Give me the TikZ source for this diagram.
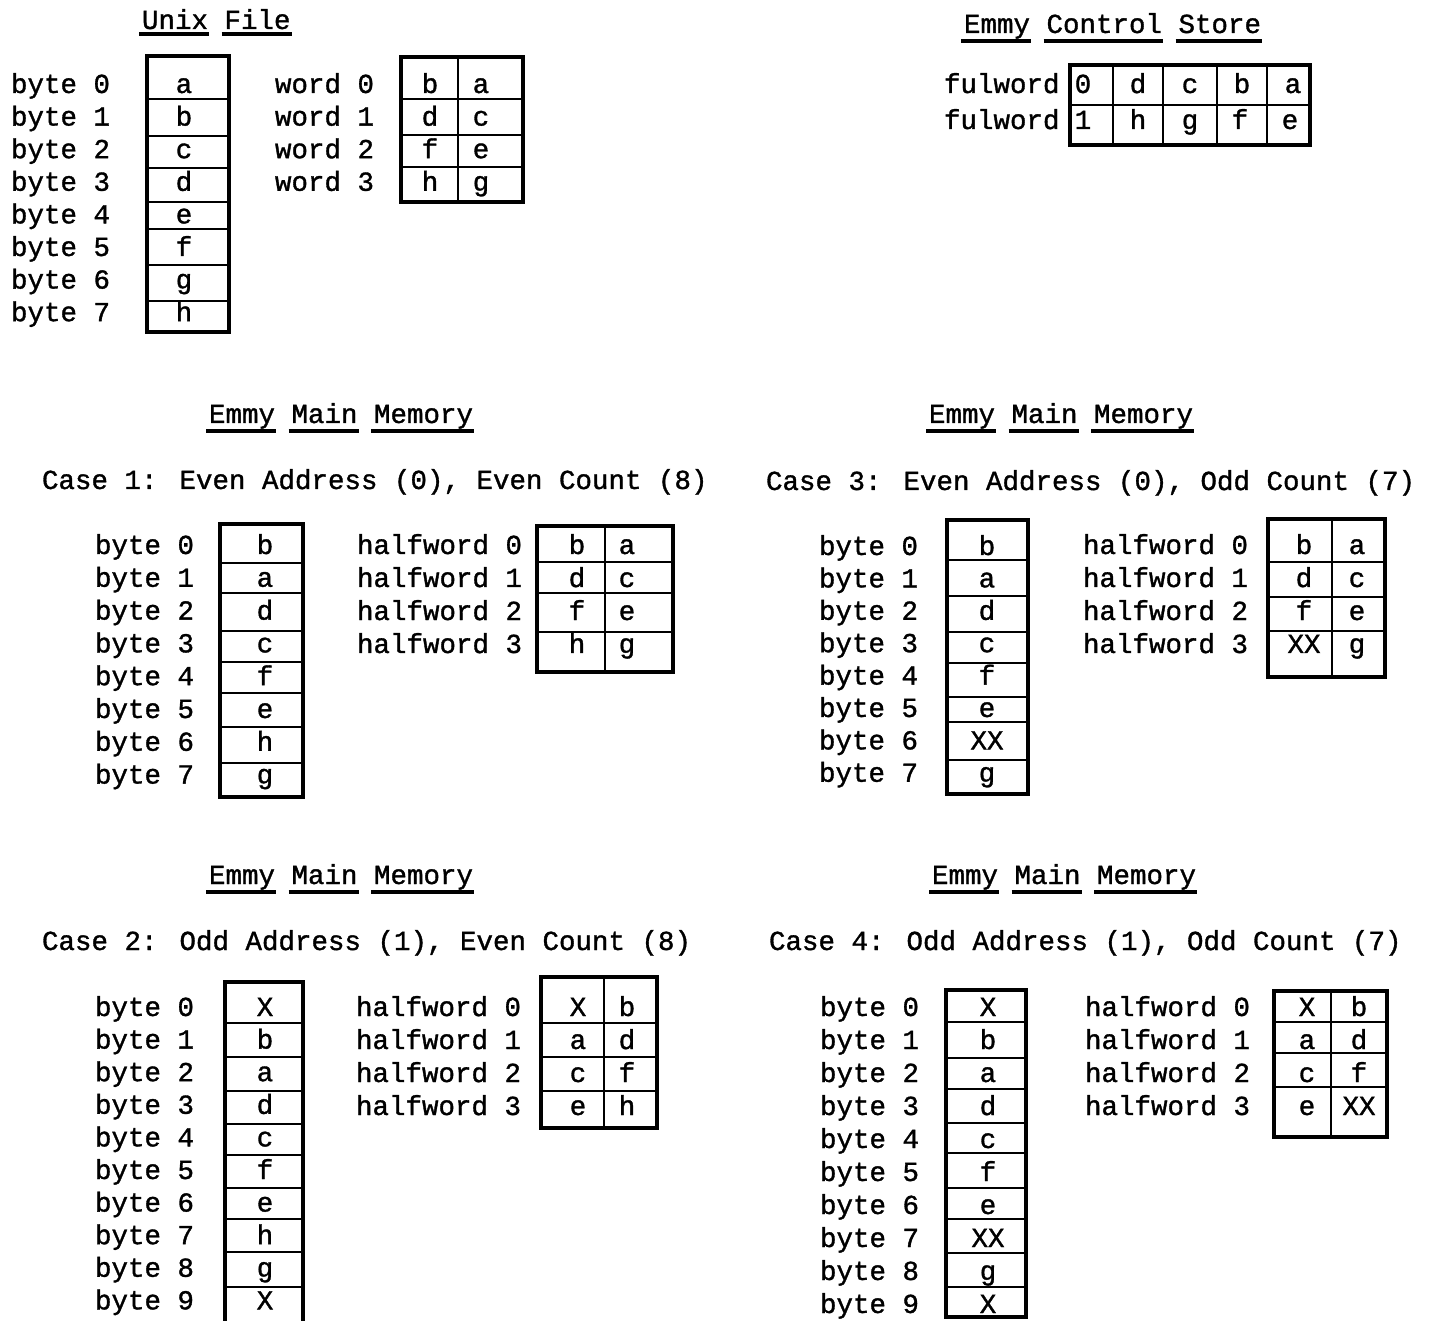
\documentclass[tikz,border=0pt]{standalone}
\usepackage{fontspec}
\setmainfont{Liberation Mono}
\newfontfamily\tw{Liberation Mono}[FakeBold=1.2]
\newcommand\Uline[4]{\draw[uline] ({#1+#3*16.5-3},#2) -- ({#1+(#3+#4)*16.5+1},#2);}
\begin{document}
\begin{tikzpicture}[x=0.5pt,y=-0.5pt,
  every node/.style={inner sep=0pt, outer sep=0pt},
  txt/.style={font=\tw\fontsize{13.75}{16}\selectfont},
  lbl/.style={txt, anchor=base west},
  cell/.style={txt, anchor=base},
  frame/.style={line width=1.8pt},
  sep/.style={line width=1.4pt},
  uline/.style={line width=1.6pt}]
\useasboundingbox (0,0) rectangle (1432,1321);

% ---------------- Unix File ----------------
\node[lbl] (unixhdr) at (142,29) {Unix File};
\Uline{142}{34}{0}{4}\Uline{142}{34}{5}{4}
\foreach \i in {0,...,7} \node[lbl] (ubl\i) at (11,{93+32.6*\i}) {byte \i};
\draw[frame] (147,56) rectangle (229,332);
\foreach \y in {99,136,168,202,229,265,301} \draw[sep] (147,\y) -- (229,\y);
\foreach \t [count=\i from 0] in {a,b,c,d,e,f,g,h} \node[cell] (ubc\i) at (184,{93+32.6*\i}) {\t};
\foreach \i in {0,...,3} \node[lbl] (uwl\i) at (275,{93+32.6*\i}) {word \i};
\draw[frame] (401,57) rectangle (523,202);
\draw[sep] (458,57) -- (458,202);
\foreach \y in {99,135,167} \draw[sep] (401,\y) -- (523,\y);
\foreach \l/\r [count=\i from 0] in {b/a,d/c,f/e,h/g} {
  \node[cell] (uwa\i) at (430,{93+32.6*\i}) {\l};
  \node[cell] (uwb\i) at (481,{93+32.6*\i}) {\r};}

% ---------------- Emmy Control Store ----------------
\node[lbl] (cshdr) at (964,33) {Emmy Control Store};
\Uline{964}{41}{0}{4}\Uline{964}{41}{5}{7}\Uline{964}{41}{13}{5}
\node[lbl] (csl0) at (944,93) {fulword};
\node[lbl] (csl1) at (944,129) {fulword};
\draw[frame] (1070,65) rectangle (1310,145);
\draw[sep] (1070,105) -- (1310,105);
\foreach \x in {1113,1163,1217,1267} \draw[sep] (\x,65) -- (\x,145);
\foreach \t/\x [count=\i] in {0/1083,d/1138,c/1190,b/1242,a/1293} \node[cell] (csa\i) at (\x,93) {\t};
\foreach \t/\x [count=\i] in {1/1083,h/1138,g/1190,f/1240,e/1290} \node[cell] (csb\i) at (\x,129) {\t};

% ---------------- Case 1 ----------------
\node[lbl] (h1) at (209,423) {Emmy Main Memory};
\Uline{209}{431}{0}{4}\Uline{209}{431}{5}{4}\Uline{209}{431}{10}{6}
\node[lbl] (c1) at (42,489) {Case 1: Even Address (0), Even Count (8)};
\foreach \i in {0,...,7} \node[lbl] (c1bl\i) at (95,{554+32.8*\i}) {byte \i};
\draw[frame] (220,524) rectangle (303,797);
\foreach \y in {563,593,631,662,693,727,763} \draw[sep] (220,\y) -- (303,\y);
\foreach \t [count=\i from 0] in {b,a,d,c,f,e,h,g} \node[cell] (c1bc\i) at (265,{554+32.8*\i}) {\t};
\foreach \i in {0,...,3} \node[lbl] (c1hl\i) at (357,{554+33*\i}) {halfword \i};
\draw[frame] (537,526) rectangle (673,672);
\draw[sep] (605,526) -- (605,672);
\foreach \y in {562,593,632} \draw[sep] (537,\y) -- (673,\y);
\foreach \l/\r [count=\i from 0] in {b/a,d/c,f/e,h/g} {
  \node[cell] (c1ha\i) at (577,{554+33*\i}) {\l};
  \node[cell] (c1hb\i) at (627,{554+33*\i}) {\r};}

% ---------------- Case 3 ----------------
\node[lbl] (h3) at (929,423) {Emmy Main Memory};
\Uline{929}{431}{0}{4}\Uline{929}{431}{5}{4}\Uline{929}{431}{10}{6}
\node[lbl] (c3) at (766,490) {Case 3: Even Address (0), Odd Count (7)};
\foreach \i in {0,...,7} \node[lbl] (c3bl\i) at (819,{555+32.4*\i}) {byte \i};
\draw[frame] (947,520) rectangle (1028,794);
\foreach \y in {560,596,632,663,697,722,760} \draw[sep] (947,\y) -- (1028,\y);
\foreach \t [count=\i from 0] in {b,a,d,c,f,e,XX,g} \node[cell] (c3bc\i) at (987,{555+32.4*\i}) {\t};
\foreach \i in {0,...,3} \node[lbl] (c3hl\i) at (1083,{554+33*\i}) {halfword \i};
\draw[frame] (1268,519) rectangle (1385,677);
\draw[sep] (1332,519) -- (1332,677);
\foreach \y in {562,597,631} \draw[sep] (1268,\y) -- (1385,\y);
\foreach \l/\r [count=\i from 0] in {b/a,d/c,f/e,XX/g} {
  \node[cell] (c3ha\i) at (1304,{554+33*\i}) {\l};
  \node[cell] (c3hb\i) at (1357,{554+33*\i}) {\r};}

% ---------------- Case 2 ----------------
\node[lbl] (h2) at (209,884) {Emmy Main Memory};
\Uline{209}{892}{0}{4}\Uline{209}{892}{5}{4}\Uline{209}{892}{10}{6}
\node[lbl] (c2) at (42,950) {Case 2: Odd Address (1), Even Count (8)};
\foreach \i in {0,...,9} \node[lbl] (c2bl\i) at (95,{1016+32.6*\i}) {byte \i};
\draw[frame] (225,1321) -- (225,982) -- (303,982) -- (303,1321);
\foreach \y in {1023,1057,1091,1124,1155,1188,1219,1252,1287} \draw[sep] (225,\y) -- (303,\y);
\foreach \t [count=\i from 0] in {X,b,a,d,c,f,e,h,g,X} \node[cell] (c2bc\i) at (265,{1016+32.6*\i}) {\t};
\foreach \i in {0,...,3} \node[lbl] (c2hl\i) at (356,{1016+33*\i}) {halfword \i};
\draw[frame] (541,977) rectangle (657,1128);
\draw[sep] (604,977) -- (604,1128);
\foreach \y in {1023,1057,1091} \draw[sep] (541,\y) -- (657,\y);
\foreach \l/\r [count=\i from 0] in {X/b,a/d,c/f,e/h} {
  \node[cell] (c2ha\i) at (578,{1016+33*\i}) {\l};
  \node[cell] (c2hb\i) at (627,{1016+33*\i}) {\r};}

% ---------------- Case 4 ----------------
\node[lbl] (h4) at (932,884) {Emmy Main Memory};
\Uline{932}{892}{0}{4}\Uline{932}{892}{5}{4}\Uline{932}{892}{10}{6}
\node[lbl] (c4) at (769,950) {Case 4: Odd Address (1), Odd Count (7)};
\foreach \i in {0,...,9} \node[lbl] (c4bl\i) at (820,{1016+33*\i}) {byte \i};
\draw[frame] (946,990) rectangle (1026,1317);
\foreach \y in {1022,1058,1089,1123,1153,1188,1219,1253,1287} \draw[sep] (946,\y) -- (1026,\y);
\foreach \t [count=\i from 0] in {X,b,a,d,c,f,e,XX,g,X} \node[cell] (c4bc\i) at (988,{1016+33*\i}) {\t};
\foreach \i in {0,...,3} \node[lbl] (c4hl\i) at (1085,{1016+33*\i}) {halfword \i};
\draw[frame] (1274,991) rectangle (1387,1137);
\draw[sep] (1331,991) -- (1331,1137);
\foreach \y in {1022,1053,1087} \draw[sep] (1274,\y) -- (1387,\y);
\foreach \l/\r [count=\i from 0] in {X/b,a/d,c/f,e/XX} {
  \node[cell] (c4ha\i) at (1307,{1016+33*\i}) {\l};
  \node[cell] (c4hb\i) at (1359,{1016+33*\i}) {\r};}
\end{tikzpicture}
\end{document}
